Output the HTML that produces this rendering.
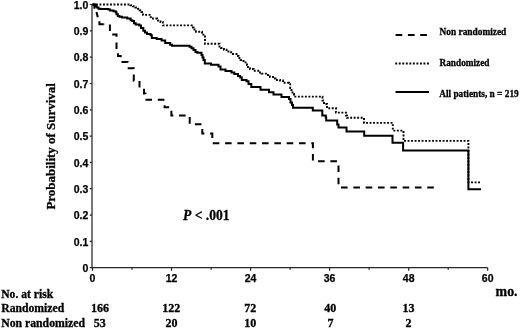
<!DOCTYPE html><html><head><meta charset="utf-8"><style>html,body{margin:0;padding:0;background:#fff;}svg{display:block;filter:blur(0.3px);}.s{font-family:"Liberation Sans",Arial,sans-serif;font-weight:bold;font-size:10.5px;fill:#000;stroke:#000;stroke-width:0.25px;}.t{font-family:"Liberation Serif","Times New Roman",serif;font-weight:bold;fill:#000;stroke:#000;stroke-width:0.3px;}</style></head><body>
<svg width="520" height="328" viewBox="0 0 520 328">
<rect width="520" height="328" fill="#fff"/>
<path d="M92,4.5 V267.6 H487.7" fill="none" stroke="#2a2a2a" stroke-width="1.25"/>
<path d="M89.8,267.7 H92 M89.8,241.4 H92 M89.8,215.1 H92 M89.8,188.7 H92 M89.8,162.4 H92 M89.8,136.1 H92 M89.8,109.8 H92 M89.8,83.5 H92 M89.8,57.1 H92 M89.8,30.8 H92 M89.8,4.5 H92 M92.5,267.7 V270.7 M132.0,267.7 V269.7 M171.5,267.7 V270.7 M211.1,267.7 V269.7 M250.6,267.7 V270.7 M290.1,267.7 V269.7 M329.6,267.7 V270.7 M369.1,267.7 V269.7 M408.7,267.7 V270.7 M448.2,267.7 V269.7 M487.7,267.7 V270.7" stroke="#222" stroke-width="1.2" fill="none"/>
<text class="s" x="88.3" y="271.9" text-anchor="end">0</text>
<text class="s" x="88.3" y="245.6" text-anchor="end">0.1</text>
<text class="s" x="88.3" y="219.3" text-anchor="end">0.2</text>
<text class="s" x="88.3" y="192.9" text-anchor="end">0.3</text>
<text class="s" x="88.3" y="166.6" text-anchor="end">0.4</text>
<text class="s" x="88.3" y="140.3" text-anchor="end">0.5</text>
<text class="s" x="88.3" y="114.0" text-anchor="end">0.6</text>
<text class="s" x="88.3" y="87.7" text-anchor="end">0.7</text>
<text class="s" x="88.3" y="61.3" text-anchor="end">0.8</text>
<text class="s" x="88.3" y="35.0" text-anchor="end">0.9</text>
<text class="s" x="88.3" y="8.7" text-anchor="end">1.0</text>
<text class="s" x="92.5" y="281.8" text-anchor="middle">0</text>
<text class="s" x="171.5" y="281.8" text-anchor="middle">12</text>
<text class="s" x="250.6" y="281.8" text-anchor="middle">24</text>
<text class="s" x="329.6" y="281.8" text-anchor="middle">36</text>
<text class="s" x="408.7" y="281.8" text-anchor="middle">48</text>
<text class="s" x="487.7" y="281.8" text-anchor="middle">60</text>
<path d="M92.5,4.5 H95 V5.5 H96 V6.5 H97 V7.5 H98.5 V8.7 H100.5 V9.1 H108.4 V9.6 H110.1 V10.4 H113.5 V11.2 H115.7 V12.2 H116.5 V14.2 H117.8 V15.9 H119.5 V16.8 H122.1 V17.6 H127.2 V18.6 H130.6 V20.2 H132.3 V21.1 H134 V23.2 H135.7 V24.5 H139.3 V25.5 H141 V28 H143.3 V30.8 H145 V32.5 H147 V34 H150.6 V35.2 H151.8 V38 H156.7 V38.9 H161.6 V40.6 H165.2 V43 H170.1 V44.8 H172 V45.7 H189.5 V46.8 H191.5 V48.3 H193.5 V50 H195.5 V52 H197.3 V52.8 H201.5 V55 H202.5 V57.5 H203.5 V60 H204.8 V63.5 H211 V64.8 H218.5 V66.5 H220.5 V69.5 H225.5 V71 H231.5 V72.5 H234.3 V74 H238 V76 H240.2 V77.5 H241.8 V80 H246.5 V81.3 H248.5 V84 H251.3 V87 H260.5 V89.7 H269 V92.3 H273.5 V94.6 H281.5 V96.9 H289 V99 H290.5 V102.5 H292 V105 H293 V107.8 H312.8 V110.5 H322.3 V115.5 H325.8 V117.5 H326.2 V120.5 H337.2 V124.5 H338.5 V127.5 H346.5 V131.5 H364.2 V135.8 H392.5 V142.7 H403.1 V150.4 H468.4 V189.3 H481" fill="none" stroke="#000" stroke-width="2"/>
<path d="M92.5,4.5 H130.5 V5.3 H133 V6.3 H135.5 V7.5 H138 V8.7 H139.6 V10.2 H141.5 V12 H143 V14.9 H150.8 V18.5 H157 V20.5 H160.5 V22 H162.8 V25.4 H191.7 V27.5 H193.5 V29.5 H196 V31.7 H202 V33.5 H203.3 V36.5 H205 V43.8 H219.5 V46.5 H221 V48 H224 V49.7 H226.5 V51.5 H229.5 V52.3 H233 V54 H236.5 V56 H238.5 V58 H240.5 V60 H243.5 V62.4 H247 V65 H248 V67 H250 V69 H253.6 V70.7 H260 V72.5 H261.5 V73.6 H267 V75 H270 V77 H273 V78.5 H275.6 V80 H280 V80.5 H283 V82.8 H289 V84.2 H290.2 V88 H291.5 V91 H292.5 V94 H294 V96.6 H322.5 V100.5 H324 V104 H327 V108.2 H336 V112.6 H346 V115.5 H347 V117.8 H364 V122.9 H392.8 V130.6 H403.5 V140.9 H468.4 V182.4 H480" fill="none" stroke="#000" stroke-width="1.9" stroke-dasharray="1.9 1.6"/>
<path d="M103.6,24.3 H109.9 V34.4 H116.5 V51 H118 V56 H120.7 V62.1 H127.6 V68.2 H133.8 V80.7 H139.5 V88 H144 V93.6 H145.4 V99.7 H164.6 V107.3 H171.4 V115.4 H189.7 V124.2 H202.3 V133.6 H212.3 V143.3 H312.9 V161.2 H338.5 V187.5 H435" fill="none" stroke="#000" stroke-width="2" stroke-dasharray="6.6 5.72" stroke-dashoffset="5.94"/>
<path d="M92.5,4.5 H94.4 V8.8 M96.5,11.9 L97.8,17.2 M99.4,21.2 V24.3 H103.6" fill="none" stroke="#000" stroke-width="2"/>
<path d="M395.6,35.1 H427" stroke="#000" stroke-width="2" stroke-dasharray="6.7 5.6"/>
<path d="M395.25,63.5 H429" stroke="#000" stroke-width="1.9" stroke-dasharray="1.9 1.63"/>
<path d="M395.5,91.9 H429" stroke="#000" stroke-width="2"/>
<text class="t" x="439.5" y="35.1" font-size="10" textLength="66.8" lengthAdjust="spacingAndGlyphs">Non randomized</text>
<text class="t" x="439.5" y="65.8" font-size="10" textLength="50" lengthAdjust="spacingAndGlyphs">Randomized</text>
<text class="t" x="439.2" y="97.1" font-size="10" textLength="79.5" lengthAdjust="spacingAndGlyphs">All patients, n = 219</text>
<text class="t" x="183.1" y="219.6" font-size="14.5" textLength="46.5" lengthAdjust="spacingAndGlyphs"><tspan font-style="italic">P</tspan> &lt; .001</text>
<text class="t" font-size="13.3" transform="translate(55.3,209.6) rotate(-90)" textLength="126.5" lengthAdjust="spacingAndGlyphs">Probability of Survival</text>
<text class="t" x="495.6" y="295.9" font-size="14.5" textLength="22" lengthAdjust="spacingAndGlyphs">mo.</text>
<text class="t" x="1.2" y="298.1" font-size="12" textLength="52" lengthAdjust="spacingAndGlyphs">No. at risk</text>
<text class="t" x="1.2" y="311.9" font-size="12" textLength="63" lengthAdjust="spacingAndGlyphs">Randomized</text>
<text class="t" x="1.2" y="326.6" font-size="12" textLength="83.8" lengthAdjust="spacingAndGlyphs">Non randomized</text>
<text class="t" x="100.1" y="312.3" font-size="12" text-anchor="middle">166</text>
<text class="t" x="171.3" y="312.3" font-size="12" text-anchor="middle">122</text>
<text class="t" x="250.2" y="312.3" font-size="12" text-anchor="middle">72</text>
<text class="t" x="330.2" y="312.3" font-size="12" text-anchor="middle">40</text>
<text class="t" x="408.5" y="312.3" font-size="12" text-anchor="middle">13</text>
<text class="t" x="99.7" y="327.1" font-size="12" text-anchor="middle">53</text>
<text class="t" x="171.5" y="327.1" font-size="12" text-anchor="middle">20</text>
<text class="t" x="250.2" y="327.1" font-size="12" text-anchor="middle">10</text>
<text class="t" x="330.4" y="327.1" font-size="12" text-anchor="middle">7</text>
<text class="t" x="408.5" y="327.1" font-size="12" text-anchor="middle">2</text>
</svg></body></html>
